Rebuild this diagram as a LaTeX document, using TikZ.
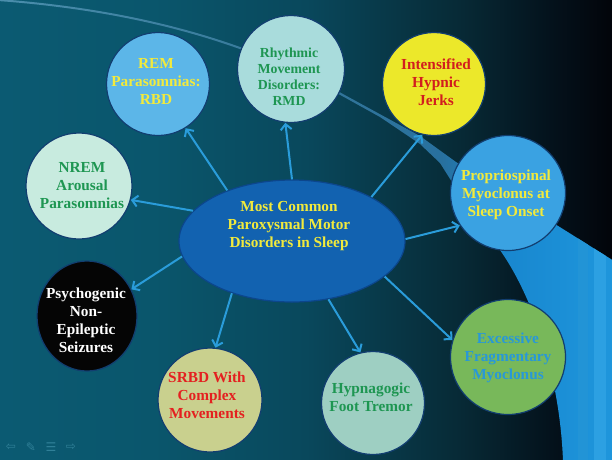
\documentclass[tikz,border=0pt]{standalone}
\usepackage{fontspec}
\setmainfont{Liberation Serif}
\newfontfamily\symfont{DejaVu Sans}
\usetikzlibrary{arrows.meta,shapes.geometric}

\definecolor{bg0}{RGB}{11,90,114}
\definecolor{bg1}{RGB}{10,86,108}
\definecolor{bg2}{RGB}{9,72,92}
\definecolor{bg3}{RGB}{7,42,54}
\definecolor{bg4}{RGB}{4,18,28}
\definecolor{bg5}{RGB}{2,4,10}
\definecolor{bd0}{RGB}{74,142,172}
\definecolor{bd1}{RGB}{52,118,152}
\definecolor{bd2}{RGB}{40,112,158}
\definecolor{bd3}{RGB}{24,134,206}
\definecolor{bd4}{RGB}{30,150,220}
\pgfdeclarehorizontalshading{bgshade}{100bp}{color(0bp)=(bg0); color(25bp)=(bg0); color(37.5bp)=(bg1); color(50bp)=(bg2); color(62.5bp)=(bg3); color(70bp)=(bg4); color(75bp)=(bg5); color(100bp)=(bg5)}
\pgfdeclarehorizontalshading{bandshade}{100bp}{color(0bp)=(bd0); color(25bp)=(bd0); color(50bp)=(bd1); color(61bp)=(bd2); color(65.5bp)=(bd3); color(75bp)=(bd4); color(100bp)=(bd4)}

\definecolor{rimcol}{RGB}{18,62,112}
\definecolor{arrcol}{RGB}{42,156,218}
\definecolor{corefill}{RGB}{18,98,176}
\definecolor{corerim}{RGB}{12,70,140}
\definecolor{ylw}{RGB}{242,234,60}
\definecolor{grn}{RGB}{30,150,82}
\definecolor{redt}{RGB}{210,30,30}
\definecolor{redb}{RGB}{228,32,32}
\definecolor{bluet}{RGB}{40,152,216}
\definecolor{remfill}{RGB}{92,182,232}
\definecolor{rhyfill}{RGB}{169,220,220}
\definecolor{intfill}{RGB}{236,232,42}
\definecolor{profill}{RGB}{58,162,226}
\definecolor{excfill}{RGB}{120,184,90}
\definecolor{hypfill}{RGB}{158,207,194}
\definecolor{srbfill}{RGB}{201,208,142}
\definecolor{psyfill}{RGB}{5,5,5}
\definecolor{nrmfill}{RGB}{200,235,223}
\definecolor{navcol}{RGB}{48,128,152}
\definecolor{stripe1}{RGB}{34,148,214}
\definecolor{stripe2}{RGB}{44,160,226}

\tikzset{
  bub/.style={circle, draw=rimcol, line width=1.2pt, inner sep=0pt},
  lbl/.style={align=center, inner sep=0pt, font=\fontsize{15.3}{18}\selectfont\bfseries},
  arr/.style={draw=arrcol, line width=2pt, -{Straight Barb[length=5.5pt,width=11pt]}},
  navi/.style={text=navcol, inner sep=0pt, font=\symfont\fontsize{12}{12}\selectfont}
}

\def\bandpath{(-2,-1) .. controls (120,8) and (240,35) .. (343,94) -- (420,136) -- (456,162) -- (614,261)
  -- (614,461) -- (563,461) .. controls (560,380) and (535,300) .. (500,250)
  -- (452,182) -- (440,163) -- (420,144) -- (380,117) -- (343,96.5) .. controls (240,37) and (120,10) .. (-2,1) -- cycle}

\begin{document}
\begin{tikzpicture}[x=1pt,y=-1pt]
\useasboundingbox (0,0) rectangle (612,459);
\shade[shading=bgshade] (0,0) rectangle (612,459);

% swoosh band
\shade[shading=bandshade] \bandpath;
\begin{scope}
  \clip \bandpath;
  \fill[stripe1] (578,200) rectangle (588,461);
  \fill[stripe2] (594,200) rectangle (606,461);
\end{scope}

% bubbles
\node[ellipse, draw=corerim, line width=1.2pt, fill=corefill, inner sep=0pt, minimum width=226pt, minimum height=122pt] (core) at (292,241) {};
\node[bub, fill=remfill, minimum size=103pt] (rem) at (158,84) {};
\node[bub, fill=rhyfill, minimum size=107pt] (rhy) at (291,69) {};
\node[bub, fill=intfill, minimum size=103pt] (int) at (434,84) {};
\node[bub, fill=profill, minimum size=115pt] (pro) at (508,193) {};
\node[bub, fill=excfill, minimum size=115pt] (exc) at (508,357) {};
\node[bub, fill=hypfill, minimum size=103pt] (hyp) at (373,403) {};
\node[bub, fill=srbfill, minimum size=104pt] (srb) at (210,400) {};
\node[ellipse, draw=rimcol, line width=1.2pt, fill=psyfill, inner sep=0pt, minimum width=100pt, minimum height=110pt] (psy) at (87,316) {};
\node[bub, fill=nrmfill, minimum size=106pt] (nrm) at (79,186) {};

% labels
\node[lbl, text=ylw] (coretxt) at (289,226) {Most Common\\Paroxysmal Motor\\Disorders in Sleep};
\node[lbl, text=ylw] (remtxt) at (156,82) {REM\\Parasomnias:\\RBD};
\node[lbl, text=grn, font=\fontsize{13.8}{16}\selectfont\bfseries] (rhytxt) at (289,77) {Rhythmic\\Movement\\Disorders:\\RMD};
\node[lbl, text=redt] (inttxt) at (436,82) {Intensified\\Hypnic\\Jerks};
\node[lbl, text=ylw] (protxt) at (506,195) {Propriospinal\\Myoclonus at\\Sleep Onset};
\node[lbl, text=bluet] (exctxt) at (508,358) {Excessive\\Fragmentary\\Myoclonus};
\node[lbl, text=grn] (hyptxt) at (371,397) {Hypnagogic\\Foot Tremor};
\node[lbl, text=redb] (srbtxt) at (207,395) {SRBD With\\Complex\\Movements};
\node[lbl, text=white] (psytxt) at (86,320) {Psychogenic\\Non-\\Epileptic\\Seizures};
\node[lbl, text=grn] (nrmtxt) at (82,186) {NREM\\Arousal\\Parasomnias};

% arrows
\draw[arr] (core.142.9) -- (rem.-58.5);
\draw[arr] (core.90.5) -- (rhy.264.4);
\draw[arr] (core.163.4) -- (nrm.-15.4);
\draw[arr] (core.29.7) -- (int.257.6);
\draw[arr] (core.1) -- (pro.214.5);
\draw[arr] (core.188.4) -- (psy.31.4);
\draw[arr] (core.221.3) -- (srb.84.2);
\draw[arr] (core.-58.3) -- (hyp.104.3);
\draw[arr] (core.-21) -- (exc.163.3);

% presentation controls
\node[navi] (nav1) at (11,447) {⇦};
\node[navi] (nav2) at (31,447) {✎};
\node[navi] (nav3) at (51,447) {☰};
\node[navi] (nav4) at (71,447) {⇨};
\end{tikzpicture}
\end{document}
